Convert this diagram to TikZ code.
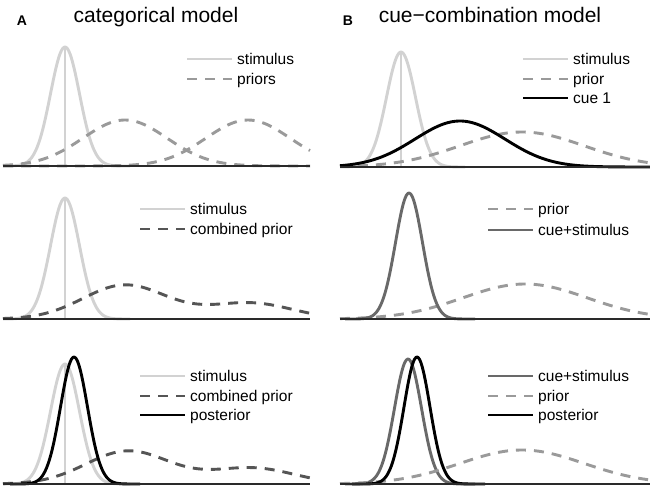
\documentclass[tikz,border=0pt]{standalone}
\usepackage{fontspec}
\setmainfont{Liberation Sans}
\usepackage{xcolor}
\definecolor{stim-gray}{HTML}{D2D2D2}
\definecolor{prior-gray}{HTML}{9A9A9A}
\definecolor{comb-gray}{HTML}{555555}
\definecolor{cue-gray}{HTML}{696969}
\definecolor{axis-gray}{HTML}{2A2A2A}
\usepackage{tikz}

\tikzset{
  declare function={gauss(\x,\c,\s)=exp(max(-10,-0.5*((\x-\c)/\s)^2));},
  curve/.style={line width=2.9pt, line join=round, smooth},
  stimcurve/.style={curve, stim-gray},
  priorcurve/.style={curve, prior-gray, dash pattern=on 10pt off 8pt},
  combcurve/.style={curve, comb-gray, dash pattern=on 10pt off 8pt},
  cuecurve/.style={curve, cue-gray},
  postcurve/.style={curve, black},
  baseline axis/.style={line width=1.3pt, axis-gray},
  legendtext/.style={anchor=base west, inner sep=0pt, font=\fontsize{15.5}{18}\selectfont},
  titletext/.style={anchor=base, inner sep=0pt, font=\fontsize{21}{24}\selectfont},
  paneltag/.style={anchor=base, inner sep=0pt, font=\fontsize{14}{16}\selectfont\bfseries},
}

\begin{document}
\begin{tikzpicture}[x=1pt, y=-1pt]

    % Background
    \useasboundingbox[fill=white] (0, 0) rectangle (650, 496);

    % Titles
    \node[paneltag] (tag-a) at (22, 25) {A};
    \node[titletext] (title-a) at (156, 22) {categorical model};
    \node[paneltag] (tag-b) at (348, 25) {B};
    \node[titletext] (title-b) at (490, 22) {cue−combination model};

    % A, top: stimulus and priors
    \draw[stimcurve] plot[domain=3:130, samples=90] (\x, {166 - 119*gauss(\x,65,14.5)});
    \draw[stim-gray, line width=2.9pt] (65, 166) -- (65, 47);
    \draw[priorcurve] plot[domain=3:310, samples=90] (\x, {166 - 46*gauss(\x,125,42)});
    \draw[priorcurve] plot[domain=3:310, samples=90] (\x, {166 - 46*gauss(\x,248,42)});
    \draw[baseline axis] (3, 166) -- (310, 166);

    \draw[stimcurve] (187, 59) -- (232, 59);
    \node[legendtext] (a1-stim) at (237, 64.5) {stimulus};
    \draw[priorcurve] (187, 79) -- (232, 79);
    \node[legendtext] (a1-prior) at (237, 84.5) {priors};

    % B, top: stimulus, prior and cue
    \draw[stimcurve] plot[domain=340:465, samples=90] (\x, {167 - 115*gauss(\x,401,14.5)});
    \draw[stim-gray, line width=2.9pt] (401, 167) -- (401, 52);
    \draw[priorcurve] plot[domain=340:650, samples=90] (\x, {167 - 35*gauss(\x,522,62)});
    \draw[postcurve] plot[domain=340:650, samples=90] (\x, {167 - 46*gauss(\x,460,45)});
    \draw[baseline axis] (340, 167) -- (650, 167);

    \draw[stimcurve] (523, 59) -- (568, 59);
    \node[legendtext] (b1-stim) at (573, 64.5) {stimulus};
    \draw[priorcurve] (523, 79) -- (568, 79);
    \node[legendtext] (b1-prior) at (573, 84.5) {prior};
    \draw[postcurve] (523, 98) -- (568, 98);
    \node[legendtext] (b1-cue) at (573, 103.5) {cue 1};

    % A, middle: stimulus and combined prior
    \draw[stimcurve] plot[domain=3:130, samples=90] (\x, {319 - 121*gauss(\x,65,14.5)});
    \draw[stim-gray, line width=2.9pt] (65, 319) -- (65, 198);
    \draw[combcurve] plot[domain=3:310, samples=110] (\x, {319 - 34*gauss(\x,125,42) - 16*gauss(\x,250,42)});
    \draw[baseline axis] (3, 319) -- (310, 319);

    \draw[stimcurve] (140, 209) -- (185, 209);
    \node[legendtext] (a2-stim) at (190, 214.5) {stimulus};
    \draw[combcurve] (140, 229) -- (185, 229);
    \node[legendtext] (a2-prior) at (190, 234.5) {combined prior};

    % B, middle: prior and cue+stimulus
    \draw[priorcurve] plot[domain=340:650, samples=90] (\x, {319 - 35*gauss(\x,525,62)});
    \draw[cuecurve] plot[domain=345:475, samples=90] (\x, {319 - 126*gauss(\x,409,13.5)});
    \draw[baseline axis] (340, 319) -- (650, 319);

    \draw[priorcurve] (488, 209) -- (533, 209);
    \node[legendtext] (b2-prior) at (538, 214.5) {prior};
    \draw[cuecurve] (488, 230) -- (533, 230);
    \node[legendtext] (b2-cue) at (538, 235.5) {cue+stimulus};

    % A, bottom: stimulus, combined prior and posterior
    \draw[stimcurve] plot[domain=3:130, samples=90] (\x, {484 - 120*gauss(\x,65,14.5)});
    \draw[stim-gray, line width=2.9pt] (65, 484) -- (65, 364);
    \draw[combcurve] plot[domain=3:310, samples=110] (\x, {484 - 33*gauss(\x,128,42) - 16*gauss(\x,252,42)});
    \draw[postcurve] plot[domain=10:140, samples=90] (\x, {484 - 127*gauss(\x,74,13.5)});
    \draw[baseline axis] (3, 484) -- (310, 484);

    \draw[stimcurve] (140, 376) -- (185, 376);
    \node[legendtext] (a3-stim) at (190, 381.5) {stimulus};
    \draw[combcurve] (140, 396) -- (185, 396);
    \node[legendtext] (a3-prior) at (190, 401.5) {combined prior};
    \draw[postcurve] (140, 415) -- (185, 415);
    \node[legendtext] (a3-post) at (190, 420.5) {posterior};

    % B, bottom: cue+stimulus, prior and posterior
    \draw[cuecurve] plot[domain=345:475, samples=90] (\x, {484 - 125*gauss(\x,408,13.5)});
    \draw[priorcurve] plot[domain=340:650, samples=90] (\x, {484 - 34*gauss(\x,522,62)});
    \draw[postcurve] plot[domain=352:485, samples=90] (\x, {484 - 127*gauss(\x,417,13)});
    \draw[baseline axis] (340, 484) -- (650, 484);

    \draw[cuecurve] (488, 376) -- (533, 376);
    \node[legendtext] (b3-cue) at (538, 381.5) {cue+stimulus};
    \draw[priorcurve] (488, 396) -- (533, 396);
    \node[legendtext] (b3-prior) at (538, 401.5) {prior};
    \draw[postcurve] (488, 415) -- (533, 415);
    \node[legendtext] (b3-post) at (538, 420.5) {posterior};

\end{tikzpicture}
\end{document}
